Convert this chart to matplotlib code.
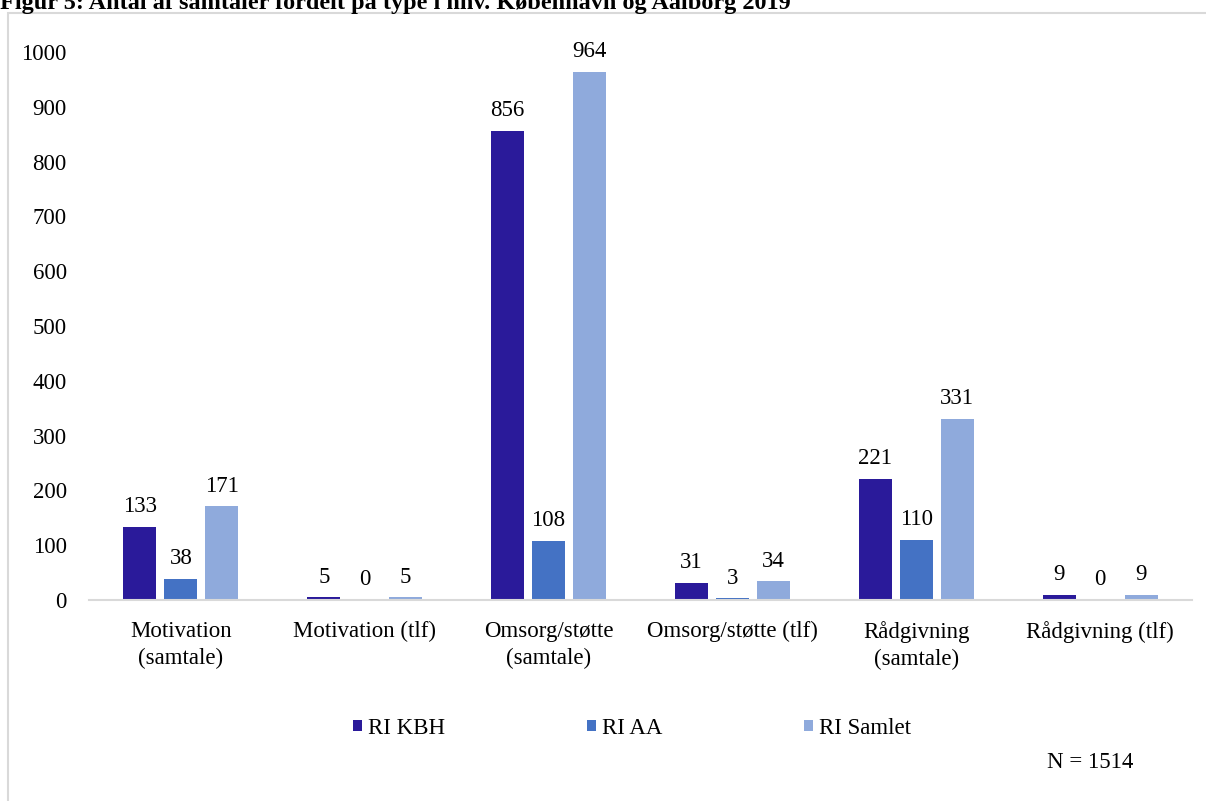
import matplotlib
matplotlib.use("Agg")
import matplotlib.pyplot as plt
from matplotlib.patches import Patch, Rectangle
import numpy as np

categories = ["Motivation\n(samtale)", "Motivation (tlf)", "Omsorg/støtte\n(samtale)",
              "Omsorg/støtte (tlf)", "Rådgivning\n(samtale)", "Rådgivning (tlf)"]
series_names = ["RI KBH", "RI AA", "RI Samlet"]
kbh = [133, 5, 856, 31, 221, 9]
aa = [38, 0, 108, 3, 110, 0]
samlet = [171, 5, 964, 34, 331, 9]
colors = ["#2A1A9A", "#4472C4", "#8FAADC"]
title = "Figur 5: Antal af samtaler fordelt på type i hhv. København og Aalborg 2019"
note = "N = 1514"

plt.rcParams["font.family"] = ["Liberation Serif", "DejaVu Serif"]
FS = 16.5

W, H = 1206, 801
fig = plt.figure(figsize=(W / 100, H / 100), dpi=100)
ax = fig.add_axes([89 / W, 1 - 600 / H, (1192 - 89) / W, (600 - 52) / H])

x = np.arange(len(categories))
bw = 0.18
step = 0.223
for i, (vals, c) in enumerate(zip([kbh, aa, samlet], colors)):
    bars = ax.bar(x + (i - 1) * step, vals, width=bw, color=c, zorder=2)
    for b, v in zip(bars, vals):
        ax.annotate(str(v), (b.get_x() + b.get_width() / 2, b.get_height()),
                    xytext=(0, 7), textcoords="offset points",
                    ha="center", va="bottom", fontsize=FS, color="#000000")

ax.set_xlim(-0.5, len(categories) - 0.5)
ax.set_ylim(0, 1000)
ax.set_yticks(np.arange(0, 1001, 100))
ax.set_xticks(x)
ax.set_xticklabels(categories, fontsize=FS, linespacing=1.4)
ax.tick_params(axis="y", length=0, pad=16, labelsize=FS)
ax.tick_params(axis="x", length=0, pad=15)
for s in ["top", "right", "left"]:
    ax.spines[s].set_visible(False)
ax.spines["bottom"].set_color("#D9D9D9")
ax.spines["bottom"].set_linewidth(1.5)

handles = [Patch(facecolor=c, edgecolor="none") for c in colors]
fig.legend(handles, series_names, loc="center", bbox_to_anchor=(632 / W, 1 - 728 / H),
           ncol=3, frameon=False, fontsize=FS, handlelength=0.4, handleheight=0.4,
           handletextpad=0.25, columnspacing=6.2)

fig.text(1090 / W, 1 - 763 / H, note, ha="center", va="center", fontsize=FS)

fig.text(0 / W, 1 - 9 / H, title, ha="left", va="baseline", fontsize=17.5,
         fontweight="bold")

frame = Rectangle((8 / W, -0.1), 1.2, 1 - 13 / H + 0.1, transform=fig.transFigure,
                  fill=False, edgecolor="#D9D9D9", linewidth=1.5, zorder=0)
fig.patches.append(frame)

fig.savefig("out.png", dpi=100)
